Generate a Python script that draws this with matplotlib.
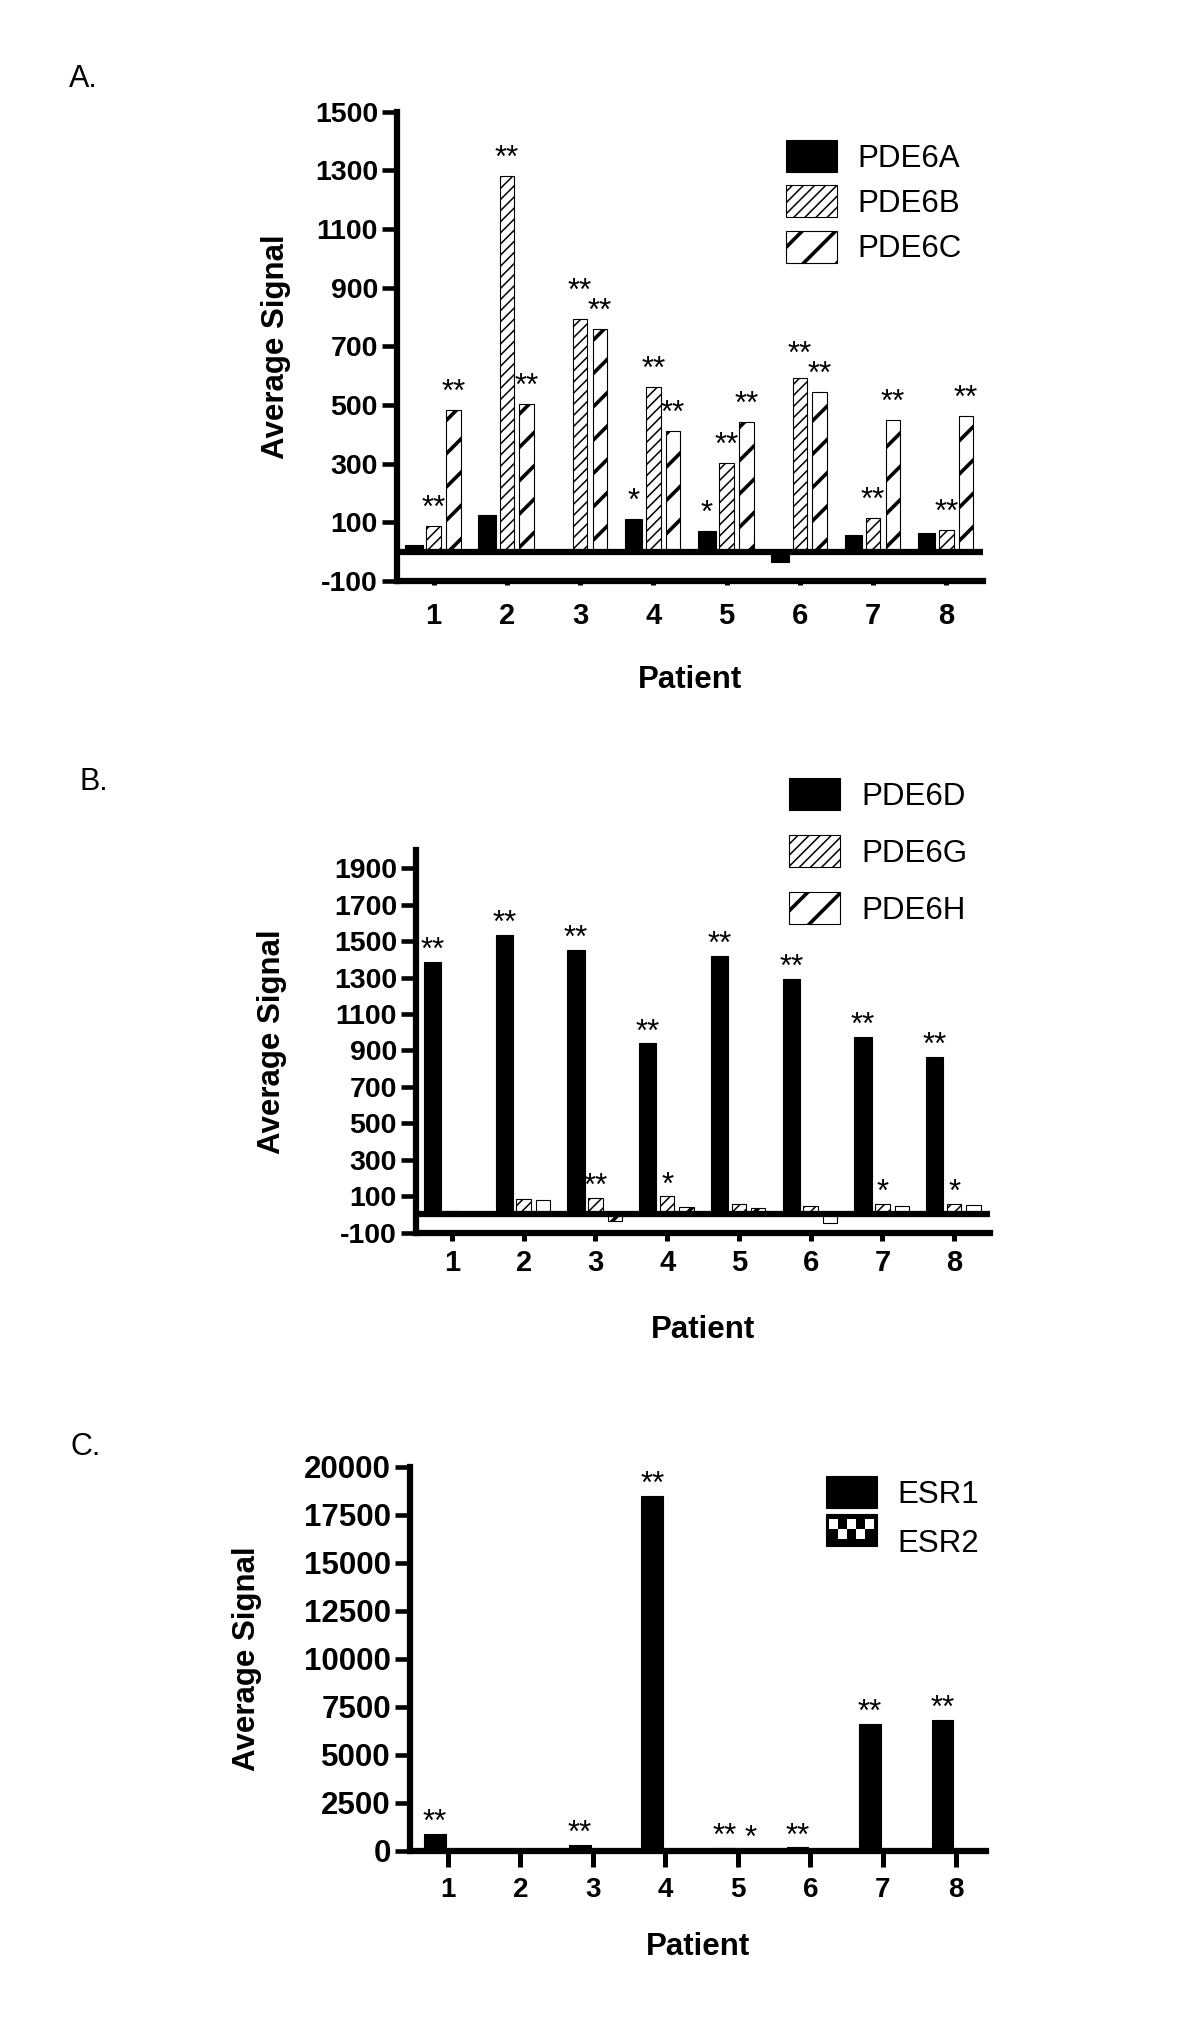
import matplotlib
matplotlib.use('Agg')
import matplotlib.pyplot as plt
import matplotlib.patches as mpatches
import numpy as np

plt.rcParams['font.family'] = ['Liberation Sans', 'DejaVu Sans']
plt.rcParams['axes.unicode_minus'] = False

# tamaño final en pixeles
W, H = 1200, 2021

pacientes = [1, 2, 3, 4, 5, 6, 7, 8]

# Panel A
pde6a = [22, 126, 5, 111, 69, -35, 56, 65]
pde6b = [86, 1282, 793, 560, 304, 593, 114, 74]
pde6c = [484, 504, 759, 413, 441, 544, 449, 462]
sig_pde6a = ['', '', '', '*', '*', '', '', '']
sig_pde6b = ['**', '**', '**', '**', '**', '**', '**', '**']
sig_pde6c = ['**', '**', '**', '**', '**', '**', '**', '**']
ticks_a = [-100, 100, 300, 500, 700, 900, 1100, 1300, 1500]

# Panel B
pde6d = [1386, 1534, 1452, 939, 1419, 1291, 976, 863]
pde6g = [20, 86, 93, 100, 60, 47, 60, 60]
pde6h = [3, 78, -35, 42, 33, -49, 46, 51]
sig_pde6d = ['**', '**', '**', '**', '**', '**', '**', '**']
sig_pde6g = ['', '', '**', '*', '', '', '*', '*']
sig_pde6h = ['', '', '', '', '', '', '', '']
ticks_b = [-100, 100, 300, 500, 700, 900, 1100, 1300, 1500, 1700, 1900]

# Panel C
esr1 = [880, 110, 300, 18490, 170, 190, 6615, 6825]
esr2 = [40, 130, 20, 60, 50, 10, 50, 40]
sig_esr1 = ['**', '', '**', '**', '**', '**', '**', '**']
sig_esr2 = ['', '', '', '', '*', '', '', '']
ticks_c = [0, 2500, 5000, 7500, 10000, 12500, 15000, 17500, 20000]

# estilos de barras
negro = dict(facecolor='black', edgecolor='black', hatch=None, hlw=1.0, lw=0.8, w=0.24)
fino = dict(facecolor='white', edgecolor='black', hatch='///', hlw=1.1, lw=0.8, w=0.2)
grueso = dict(facecolor='white', edgecolor='black', hatch='/', hlw=2.6, lw=0.8, w=0.2)

fig = plt.figure(figsize=(W / 100, H / 100), dpi=100)


def crear_ejes(left, top, right, bottom):
    return fig.add_axes([left / W, 1 - bottom / H, (right - left) / W, (bottom - top) / H])


def barras(ax, desplaz, valores, estilo, etiqueta, ancho=None):
    x = np.array(pacientes) + desplaz
    w = ancho if ancho else estilo['w']
    with plt.rc_context({'hatch.linewidth': estilo['hlw']}):
        b = ax.bar(x, valores, w, label=etiqueta, facecolor=estilo['facecolor'],
                   edgecolor=estilo['edgecolor'], hatch=estilo['hatch'],
                   linewidth=estilo['lw'], zorder=2)
        for p in b:
            if hasattr(p, 'set_hatch_linewidth'):
                p.set_hatch_linewidth(estilo['hlw'])
    b.hlw = estilo['hlw']
    b.xs = x
    b.vals = valores
    return b


def estrellas(ax, grupos, off):
    # asteriscos sobre cada barra; si chocan con el de la derecha se suben
    for k in range(len(pacientes)):
        prev = None
        for b, sig in reversed(grupos):
            s = sig[k]
            if not s:
                continue
            xp, yp = ax.transData.transform((b.xs[k], max(b.vals[k], 0)))
            yp += off * 100 / 72
            w = 12 * len(s)
            if prev is not None:
                if abs(prev[0] - xp) < (w + prev[2]) / 2 and abs(yp - prev[1]) < 20:
                    yp = prev[1] + 20
            xd, yd = ax.transData.inverted().transform((xp, yp))
            ax.text(xd, yd, s, ha='center', va='bottom', fontsize=22.5)
            prev = (xp, yp, w)


def formato(ax, ylim, yticks, fs, fsx, xlen, xpad, xlim, lab_x, lab_y):
    ax.set_xlim(*xlim)
    ax.set_ylim(*ylim)
    ax.set_yticks(yticks)
    ax.set_xticks(pacientes)
    ax.spines['top'].set_visible(False)
    ax.spines['right'].set_visible(False)
    ax.spines['left'].set_linewidth(4.5)
    ax.spines['bottom'].set_linewidth(4.5)
    ax.tick_params(axis='y', direction='out', length=11, width=3.3, pad=2.7, labelsize=fs)
    ax.tick_params(axis='x', direction='out', length=xlen, width=3.6, pad=xpad, labelsize=fsx)
    for t in ax.get_xticklabels() + ax.get_yticklabels():
        t.set_fontweight('bold')
    bb = ax.get_position()
    axw, axh = bb.width * W, bb.height * H
    ax.set_ylabel('Average Signal', fontsize=22.5, fontweight='bold')
    ax.yaxis.set_label_coords(-lab_x / axw, 0.5)
    ax.set_xlabel('Patient', fontsize=22.5, fontweight='bold')
    ax.xaxis.set_label_coords(0.5, -lab_y / axh)


class Damero:
    # cuadro de leyenda con patron de tablero
    def legend_artist(self, legend, orig_handle, fontsize, handlebox):
        x0, y0 = handlebox.xdescent, handlebox.ydescent
        w, h = handlebox.width, handlebox.height
        tr = handlebox.get_transform()
        fondo = mpatches.Rectangle((x0, y0), w, h, facecolor='black', edgecolor='black',
                                   lw=0.8, transform=tr)
        handlebox.add_artist(fondo)
        nx, ny = 5, 2
        mx, my_top, my_bot = 0.06 * w, 0.16 * h, 0.22 * h
        cw = (w - 2 * mx) / nx
        ch = (h - my_top - my_bot) / ny
        for i in range(nx):
            for j in range(ny):
                if (i + j) % 2 == 0:
                    cy = y0 + h - my_top - (j + 1) * ch
                    handlebox.add_artist(mpatches.Rectangle((x0 + mx + i * cw, cy), cw, ch,
                                                            facecolor='white', lw=0, transform=tr))
        return fondo


def leyenda(ax, handles, labels, left, top, ls, hmap=None):
    leg = ax.legend(handles, labels, loc='upper left', bbox_to_anchor=(left / W, 1 - top / H),
                    bbox_transform=fig.transFigure, frameon=False, fontsize=22.5,
                    handlelength=1.63, handleheight=1.2, handletextpad=0.67,
                    labelspacing=ls, borderpad=0, borderaxespad=0, handler_map=hmap)
    # grosor del rayado tambien en la leyenda
    for h, lh in zip(handles, leg.legend_handles):
        if hasattr(lh, 'set_hatch_linewidth'):
            lh.set_hatch_linewidth(h.hlw)


# ---- Panel A ----
ax1 = crear_ejes(397, 111.7, 983, 581)
formato(ax1, (-100, 1500), ticks_a, 20.5, 21, 3, 12, (0.5, 8.5), 106, 84)
b1 = barras(ax1, -0.27, pde6a, negro, 'PDE6A')
b2 = barras(ax1, 0.0, pde6b, fino, 'PDE6B')
b3 = barras(ax1, 0.27, pde6c, grueso, 'PDE6C')
estrellas(ax1, [(b1, sig_pde6a), (b2, sig_pde6b), (b3, sig_pde6c)], 1.5)
ax1.axhline(0, color='black', linewidth=4.5, zorder=3)
leyenda(ax1, [b1, b2, b3], ['PDE6A', 'PDE6B', 'PDE6C'], 786, 140, 0.38)

# ---- Panel B ----
ax2 = crear_ejes(416, 850, 990, 1232.7)
formato(ax2, (-100, 2000), ticks_b, 20.5, 21, 5.5, 6.5, (0.5, 8.5), 129, 82)
d1 = barras(ax2, -0.27, pde6d, negro, 'PDE6D')
d2 = barras(ax2, 0.0, pde6g, fino, 'PDE6G')
d3 = barras(ax2, 0.27, pde6h, grueso, 'PDE6H')
estrellas(ax2, [(d1, sig_pde6d), (d2, sig_pde6g), (d3, sig_pde6h)], -3)
ax2.axhline(0, color='black', linewidth=4.5, zorder=3)
leyenda(ax2, [d1, d2, d3], ['PDE6D', 'PDE6G', 'PDE6H'], 789, 778, 0.75)

# ---- Panel C ----
ax3 = crear_ejes(410, 1466.7, 986, 1851)
formato(ax3, (0, 20000), ticks_c, 22.5, 20, 11.5, 7, (0.48, 8.42), 148, 81)
e1 = barras(ax3, -0.18, esr1, negro, 'ESR1', ancho=0.3)
e2 = barras(ax3, 0.18, esr2, negro, 'ESR2', ancho=0.3)
estrellas(ax3, [(e1, sig_esr1), (e2, sig_esr2)], -3)
leyenda(ax3, [e1, e2], ['ESR1', 'ESR2'], 826, 1476, 0.5, hmap={e2: Damero()})

# letras de panel
for letra, x, y in [('A.', 69, 87), ('B.', 80, 790), ('C.', 71, 1455)]:
    fig.text(x / W, 1 - y / H, letra, fontsize=22, va='baseline', ha='left')

fig.savefig('out.png', dpi=100)
